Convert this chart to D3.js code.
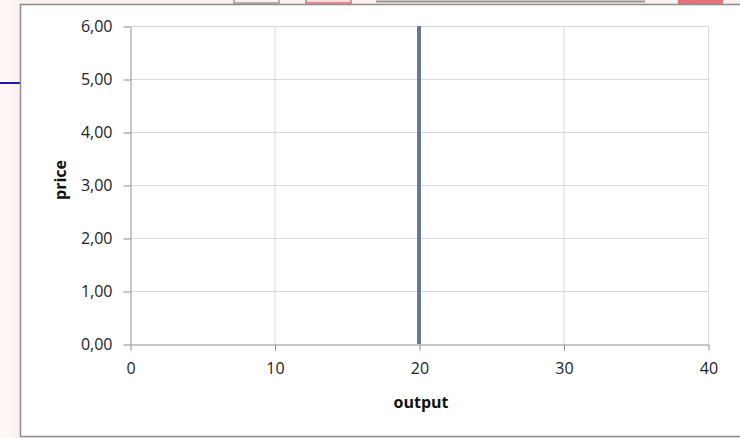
<!DOCTYPE html>
<html>
<head>
<meta charset="utf-8">
<script src="https://cdn.jsdelivr.net/npm/d3@7"></script>
<style>
body{margin:0;background:#fff;}
svg{display:block;font-family:"Open Sans","DejaVu Sans",sans-serif;}
.tick text{font-size:16px;fill:#222;}
</style>
</head>
<body>
<script>
// supply line: vertical at output 20
var outputVals = [20, 20];
var priceVals = [0, 6];
var xTicks = [0, 10, 20, 30, 40];
var yTicks = [0, 1, 2, 3, 4, 5, 6];

var W = 740, H = 438;
var svg = d3.select('body').append('svg')
  .attr('width', W).attr('height', H);

// background bits around the frame
var bg = svg.append('g');
bg.append('rect').attr('x',0).attr('y',0).attr('width',W).attr('height',H).attr('fill','#fbf1ef');
bg.append('rect').attr('x',0).attr('y',0).attr('width',12).attr('height',H).attr('fill','#fdf8f7');
bg.append('line').attr('x1',0).attr('x2',20).attr('y1',83).attr('y2',83)
  .attr('stroke','#1a1aa8').attr('stroke-width',2);
bg.append('rect').attr('x',234).attr('y',-3).attr('width',45).attr('height',6)
  .attr('fill','none').attr('stroke','#9a9a9a').attr('stroke-width',1.5);
bg.append('rect').attr('x',306).attr('y',-3).attr('width',45).attr('height',6)
  .attr('fill','#f7dcdc').attr('stroke','#e06b78').attr('stroke-width',1.5);
bg.append('line').attr('x1',376).attr('x2',645).attr('y1',1.5).attr('y2',1.5)
  .attr('stroke','#9a9490').attr('stroke-width',2);
bg.append('rect').attr('x',678).attr('y',0).attr('width',45).attr('height',4).attr('fill','#e8707c');

// chart frame
svg.append('rect').attr('x',20.5).attr('y',4.5).attr('width',730).attr('height',432)
  .attr('fill','#fff').attr('stroke','#8c8c8c').attr('stroke-width',1.5);

var x = d3.scaleLinear().domain([0, 40]).range([130, 708]);
var y = d3.scaleLinear().domain([0, 6]).range([344, 26]);
var fmt = function(d){ return d3.format('.2f')(d).replace('.', ','); };

// gridlines
var grid = svg.append('g');
grid.selectAll('.hg').data(yTicks.slice(1)).enter().append('line')
  .attr('x1', x(0)).attr('x2', x(40))
  .attr('y1', function(d){ return y(d)+0.5; }).attr('y2', function(d){ return y(d)+0.5; })
  .attr('stroke','#d9d9d9');
grid.selectAll('.vg').data(xTicks.slice(1)).enter().append('line')
  .attr('y1', y(0)).attr('y2', y(6))
  .attr('x1', function(d){ return x(d)+0.5; }).attr('x2', function(d){ return x(d)+0.5; })
  .attr('stroke','#d9d9d9');

// axes
var yAxis = svg.append('g').attr('transform','translate(130.5,0.5)')
  .call(d3.axisLeft(y).tickValues(yTicks).tickFormat(fmt).tickSize(7).tickSizeOuter(0).tickPadding(11));
var xAxis = svg.append('g').attr('transform','translate(0.5,344.5)')
  .call(d3.axisBottom(x).tickValues(xTicks).tickSize(6).tickSizeOuter(0).tickPadding(12));
[yAxis, xAxis].forEach(function(a){
  a.attr('font-size', null).attr('font-family', null);
  a.select('.domain').attr('stroke','#8c8c8c');
  a.selectAll('.tick line').attr('stroke','#8c8c8c');
});

// the series
var line = d3.line()
  .x(function(d){ return x(d[0]); })
  .y(function(d){ return y(d[1]); });
svg.append('path')
  .datum(d3.zip(outputVals, priceVals))
  .attr('d', line)
  .attr('fill','none')
  .attr('stroke','#6b7598')
  .attr('stroke-width',4);

// axis titles
svg.append('text').attr('x', 421).attr('y', 408).attr('text-anchor','middle')
  .style('font-size','16px').style('font-weight','bold').attr('fill','#111')
  .text('output');
svg.append('text').attr('transform','translate(66,180) rotate(-90)').attr('text-anchor','middle')
  .style('font-size','16px').style('font-weight','bold').attr('fill','#111')
  .text('price');
</script>
</body>
</html>
